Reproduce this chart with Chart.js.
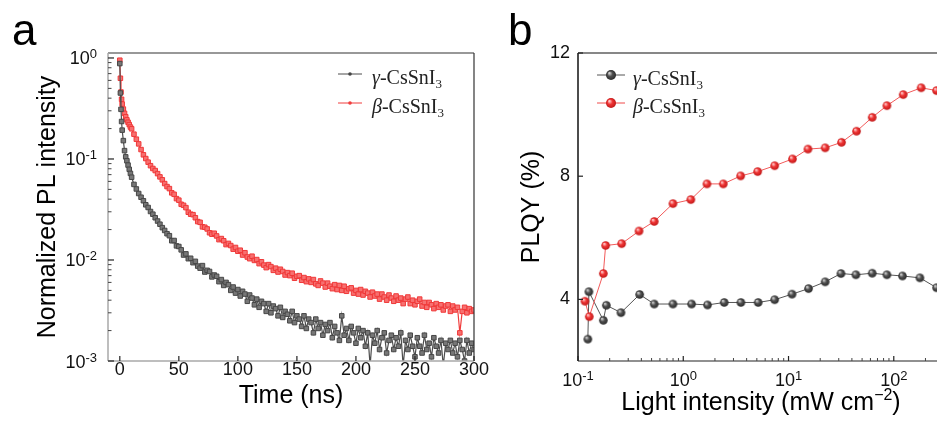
<!DOCTYPE html>
<html>
<head>
<meta charset="utf-8">
<script src="https://cdn.jsdelivr.net/npm/chart.js@4/dist/chart.umd.min.js"></script>
<style>
html, body { margin: 0; padding: 0; background: #fff; overflow: hidden; }
#wrap { position: relative; width: 937px; height: 421px; overflow: hidden; }
#chartA { position: absolute; left: 0; top: 0; }
#chartB { position: absolute; left: 470px; top: 0; }
</style>
</head>
<body>
<div id="wrap">
<canvas id="chartA" width="500" height="421"></canvas>
<canvas id="chartB" width="480" height="421"></canvas>
</div>
<script>
// ---- panel a : PL decay ----
const timeNs = [0, 0.5, 1, 1.5, 2, 3, 4, 5, 6, 7, 8, 9, 10,
  12, 14, 16, 18, 20, 22, 24, 26, 28, 30, 32, 34, 36, 38, 40,
  42, 44, 46, 48, 50, 52, 54, 56, 58, 60, 62, 64, 66, 68, 70, 72, 74, 76, 78, 80,
  82, 84, 86, 88, 90, 92, 94, 96, 98, 100, 102, 104, 106, 108, 110, 112, 114, 116, 118, 120,
  122, 124, 126, 128, 130, 132, 134, 136, 138, 140, 142, 144, 146, 148, 150, 152, 154, 156, 158, 160,
  162, 164, 166, 168, 170, 172, 174, 176, 178, 180, 182, 184, 186, 188, 190, 192, 194, 196, 198, 200,
  202, 204, 206, 208, 210, 212, 214, 216, 218, 220, 222, 224, 226, 228, 230, 232, 234, 236, 238, 240,
  242, 244, 246, 248, 250, 252, 254, 256, 258, 260, 262, 264, 266, 268, 270, 272, 274, 276, 278, 280,
  282, 284, 286, 288, 290, 292, 294, 296, 298, 300];

const betaDecay = [0.95, 0.63, 0.46, 0.39, 0.35, 0.312, 0.283, 0.262, 0.244, 0.231, 0.219, 0.207, 0.199,
  0.176, 0.157, 0.141, 0.124, 0.110, 0.101, 0.0930, 0.0858, 0.0805, 0.0768, 0.0716, 0.0665, 0.0622, 0.0571, 0.0533,
  0.0509, 0.0462, 0.0447, 0.0405, 0.0391, 0.0356, 0.0348, 0.0330, 0.0297, 0.0284,
  0.0281, 0.0262, 0.0240, 0.0236, 0.0213, 0.0211, 0.0203, 0.0186, 0.0180, 0.0184,
  0.0173, 0.0159, 0.0163, 0.0155, 0.0142, 0.0146, 0.0139, 0.0128, 0.0133, 0.0122,
  0.0125, 0.0112, 0.0118, 0.0107, 0.0103, 0.0109, 0.0099, 0.0101, 0.0092, 0.0096,
  0.0089, 0.0084, 0.0090, 0.0086, 0.0079, 0.0083, 0.0076, 0.0081, 0.0077, 0.0071,
  0.0075, 0.0070, 0.0074, 0.0066, 0.0069, 0.0070, 0.0063, 0.0067, 0.0061, 0.0065,
  0.0060, 0.0064, 0.0058, 0.0056, 0.0062, 0.0059, 0.0054, 0.0059, 0.0055, 0.0052,
  0.0057, 0.0051, 0.0056, 0.0050, 0.0055, 0.0049, 0.0052, 0.0053, 0.0047, 0.0050,
  0.0046, 0.0051, 0.0045, 0.0049, 0.0047, 0.0043, 0.0048, 0.0044, 0.0046, 0.0041,
  0.0046, 0.0043, 0.0040, 0.0045, 0.0042, 0.0039, 0.0044, 0.0040, 0.0042, 0.0037,
  0.0041, 0.0043, 0.0037, 0.0040, 0.0036, 0.0039, 0.0041, 0.0035, 0.0038, 0.0034,
  0.0038, 0.0036, 0.0033, 0.0037, 0.0034, 0.0036, 0.0032, 0.0035, 0.0036, 0.0031,
  0.0035, 0.0032, 0.0034, 0.0019, 0.0031, 0.0034, 0.0030, 0.0033, 0.0031, 0.0032];

const gammaDecay = [0.88, 0.45, 0.31, 0.235, 0.193, 0.152, 0.121, 0.105, 0.096, 0.087, 0.079, 0.072, 0.066,
  0.056, 0.0505, 0.0455, 0.0418, 0.0386, 0.0352, 0.0331, 0.0302, 0.0284, 0.0262, 0.0243, 0.0226, 0.0209, 0.0196, 0.0182,
  0.0174, 0.0155, 0.0156, 0.0138, 0.0136, 0.0126, 0.0112, 0.0115, 0.0103, 0.0104,
  0.0094, 0.0097, 0.0087, 0.0083, 0.0088, 0.0076, 0.0079, 0.0077, 0.0068, 0.0071,
  0.0069, 0.0061, 0.0064, 0.0056, 0.0060, 0.0057, 0.0050, 0.0054, 0.0047, 0.0051,
  0.0044, 0.0049, 0.0046, 0.0039, 0.0045, 0.0042, 0.0036, 0.0041, 0.0034, 0.0039,
  0.0037, 0.0031, 0.0037, 0.0030, 0.0035, 0.0033, 0.0028, 0.0034, 0.0027, 0.0031,
  0.0029, 0.0025, 0.0031, 0.0024, 0.0028, 0.0026, 0.0022, 0.0028, 0.0021, 0.0026,
  0.0024, 0.0019, 0.0026, 0.0021, 0.0024, 0.0018, 0.0023, 0.0020, 0.0024, 0.0017,
  0.0022, 0.0019, 0.0016, 0.0028, 0.0018, 0.0021, 0.0016, 0.0022, 0.0019, 0.0015,
  0.0021, 0.0017, 0.0020, 0.0014, 0.0019, 0.0009, 0.0018, 0.0015, 0.0020, 0.0013,
  0.0017, 0.0019, 0.0012, 0.0016, 0.0018, 0.0013, 0.0017, 0.0014, 0.0019, 0.0009,
  0.0016, 0.0013, 0.0018, 0.0014, 0.0011, 0.0017, 0.0014, 0.0012, 0.0018, 0.0013,
  0.0015, 0.0011, 0.0017, 0.0014, 0.0012, 0.0016, 0.0009, 0.0015, 0.0013, 0.0016,
  0.0012, 0.0015, 0.0011, 0.0016, 0.0013, 0.0010, 0.0016, 0.0012, 0.0015, 0.0013];

const timeTicks = [0, 50, 100, 150, 200, 250, 300];
const decayDecades = [0.001, 0.01, 0.1, 1];

// ---- panel b : PLQY vs light intensity ----
const powerGamma = [0.124, 0.127, 0.174, 0.186, 0.256, 0.385, 0.53, 0.798, 1.2, 1.7, 2.45, 3.53, 5.15, 7.38,
  10.8, 15.5, 22.3, 31.5, 43.7, 62.4, 86, 121, 177, 255];
const plqyGamma = [2.71, 4.25, 3.32, 3.81, 3.57, 4.16, 3.85, 3.85, 3.85, 3.82, 3.9, 3.9, 3.9, 3.99,
  4.17, 4.35, 4.57, 4.84, 4.8, 4.85, 4.8, 4.76, 4.7, 4.38];
const powerBeta = [0.1165, 0.128, 0.174, 0.183, 0.26, 0.38, 0.53, 0.798, 1.18, 1.68, 2.4, 3.51, 5.09, 7.38,
  10.9, 15.3, 22.3, 31.9, 44.3, 62.4, 86, 123, 182, 255];
const plqyBeta = [3.94, 3.44, 4.84, 5.75, 5.81, 6.22, 6.53, 7.11, 7.24, 7.75, 7.75, 8.01, 8.15, 8.34,
  8.56, 8.88, 8.92, 9.1, 9.46, 9.91, 10.29, 10.65, 10.87, 10.78];

const plqyTicks = [4, 8, 12];
const powerDecades = [0.1, 1, 10, 100];

const seriesNames = ['γ-CsSnI3', 'β-CsSnI3'];

const SANS = "'Liberation Sans', Arial, sans-serif";
const SERIF = "'Liberation Serif', 'Times New Roman', serif";

function line(ctx, x0, y0, x1, y1, color, w) {
  ctx.strokeStyle = color;
  ctx.lineWidth = w;
  ctx.beginPath();
  ctx.moveTo(x0, y0);
  ctx.lineTo(x1, y1);
  ctx.stroke();
}

// "10" with a raised exponent, y is the baseline
function drawPow(ctx, x, y, exp, align) {
  ctx.textAlign = 'left';
  ctx.textBaseline = 'alphabetic';
  ctx.fillStyle = '#111';
  ctx.font = '18px ' + SANS;
  const w1 = ctx.measureText('10').width;
  ctx.font = '13px ' + SANS;
  const w2 = ctx.measureText(exp).width;
  const x0 = align === 'right' ? x - w1 - w2 : x - (w1 + w2) / 2;
  ctx.font = '18px ' + SANS;
  ctx.fillText('10', x0, y);
  ctx.font = '13px ' + SANS;
  ctx.fillText(exp, x0 + w1, y - 6);
}

function minorLog(decades, max) {
  const out = [];
  decades.forEach(d => {
    for (let m = 2; m <= 9; m++) if (m * d <= max) out.push(m * d);
  });
  return out;
}

function ball(r, light, base, dark) {
  const c = document.createElement('canvas');
  const s = Math.ceil(r * 2 + 2);
  c.width = s;
  c.height = s;
  const g = c.getContext('2d');
  const grad = g.createRadialGradient(s / 2 - r * 0.35, s / 2 - r * 0.4, r * 0.1, s / 2, s / 2, r);
  grad.addColorStop(0, light);
  grad.addColorStop(0.45, base);
  grad.addColorStop(1, dark);
  g.fillStyle = grad;
  g.beginPath();
  g.arc(s / 2, s / 2, r, 0, Math.PI * 2);
  g.fill();
  return c;
}

const ballGray = ball(4.3, '#d0d0d0', '#505050', '#2a2a2a');
const ballRed = ball(4.3, '#ffc8c8', '#ef3434', '#c01818');
const ballGrayL = ball(5, '#d0d0d0', '#505050', '#2a2a2a');
const ballRedL = ball(5, '#ffc8c8', '#ef3434', '#c01818');

function legendRow(ctx, x0, x1, y, color, drawMarker, label, textX) {
  line(ctx, x0, y, x1, y, color, 1);
  drawMarker(ctx, (x0 + x1) / 2, y);
  const greek = label[0], body = label.slice(1, -1), sub = label.slice(-1);
  const by = y + 10;
  let tx = textX;
  ctx.textAlign = 'left';
  ctx.textBaseline = 'alphabetic';
  ctx.fillStyle = '#222';
  ctx.font = 'italic 20px ' + SERIF;
  ctx.fillText(greek, tx, by);
  tx += ctx.measureText(greek).width;
  ctx.font = '20px ' + SERIF;
  ctx.fillText(body, tx, by);
  tx += ctx.measureText(body).width;
  ctx.font = '13px ' + SERIF;
  ctx.fillText(sub, tx, by + 4);
}

function dot(color) {
  return (ctx, x, y) => {
    ctx.fillStyle = color;
    ctx.beginPath();
    ctx.arc(x, y, 1.8, 0, Math.PI * 2);
    ctx.fill();
  };
}

function sprite(img) {
  return (ctx, x, y) => ctx.drawImage(img, x - img.width / 2, y - img.height / 2);
}

const decoA = {
  id: 'decoA',
  afterDraw(chart) {
    const { ctx, chartArea: a, scales: { x, y } } = chart;
    ctx.save();
    line(ctx, a.left, a.top, a.right, a.top, '#333', 1.2);
    line(ctx, a.right, a.top, a.right, a.bottom, '#333', 1.2);
    line(ctx, a.left, a.top, a.left, a.bottom, '#a8a8a8', 1.5);
    line(ctx, a.left, a.bottom, a.right, a.bottom, '#a8a8a8', 1.5);
    timeTicks.forEach(v => {
      const px = x.getPixelForValue(v);
      line(ctx, px, a.bottom, px, a.bottom - 5, '#222', 1.2);
    });
    decayDecades.forEach(d => {
      const py = y.getPixelForValue(d);
      line(ctx, a.left, py, a.left + 6, py, '#222', 1.2);
      drawPow(ctx, a.left - 11, py + 6.5, String(Math.round(Math.log10(d))), 'right');
    });
    minorLog(decayDecades, y.max).forEach(v => {
      const py = y.getPixelForValue(v);
      line(ctx, a.left, py, a.left + 3.5, py, '#444', 1);
    });
    ctx.fillStyle = '#000';
    ctx.textAlign = 'left';
    ctx.textBaseline = 'alphabetic';
    ctx.font = '44px ' + SANS;
    ctx.fillText('a', 12, 45);
    legendRow(ctx, 338, 362, 74, '#4d4d4d', dot('#444'), seriesNames[0], 372);
    legendRow(ctx, 338, 362, 103, '#f03c3c', dot('#f03c3c'), seriesNames[1], 372);
    ctx.restore();
  }
};

const decoB = {
  id: 'decoB',
  afterDraw(chart) {
    const { ctx, chartArea: a, scales: { x, y } } = chart;
    ctx.save();
    line(ctx, a.left, a.top, a.right, a.top, '#111', 1.2);
    line(ctx, a.left, a.top, a.left, a.bottom, '#111', 1.5);
    line(ctx, a.left, a.bottom, a.right, a.bottom, '#222', 1.2);
    powerDecades.forEach(d => {
      const px = x.getPixelForValue(d);
      line(ctx, px, a.bottom, px, a.bottom - 5, '#222', 1.2);
      drawPow(ctx, px, 385.5, String(Math.round(Math.log10(d))), 'center');
    });
    minorLog(powerDecades, x.max).forEach(v => {
      const px = x.getPixelForValue(v);
      line(ctx, px, a.bottom, px, a.bottom - 3, '#444', 1);
    });
    plqyTicks.forEach(v => {
      const py = y.getPixelForValue(v);
      line(ctx, a.left, py, a.left + 5, py, '#222', 1.2);
    });
    // x title with superscript
    const t1 = 'Light intensity (mW cm', t2 = '\u22122', t3 = ')';
    ctx.fillStyle = '#000';
    ctx.textAlign = 'left';
    ctx.textBaseline = 'alphabetic';
    ctx.font = '25px ' + SANS;
    const w1 = ctx.measureText(t1).width, w3 = ctx.measureText(t3).width;
    ctx.font = '16px ' + SANS;
    const w2 = ctx.measureText(t2).width;
    let tx = (a.left + a.right) / 2 - (w1 + w2 + w3) / 2;
    ctx.font = '25px ' + SANS;
    ctx.fillText(t1, tx, 410);
    ctx.font = '16px ' + SANS;
    ctx.fillText(t2, tx + w1, 400);
    ctx.font = '25px ' + SANS;
    ctx.fillText(t3, tx + w1 + w2, 410);
    ctx.font = '44px ' + SANS;
    ctx.fillText('b', 38, 45);
    legendRow(ctx, 127, 155, 75, '#555', sprite(ballGrayL), seriesNames[0], 163);
    legendRow(ctx, 127, 155, 103, '#f04a4a', sprite(ballRedL), seriesNames[1], 163);
    ctx.restore();
  }
};

const common = {
  responsive: false,
  animation: false,
  events: [],
  plugins: { legend: { display: false }, tooltip: { enabled: false } }
};

new Chart(document.getElementById('chartA'), {
  type: 'line',
  data: {
    datasets: [
      {
        label: seriesNames[0],
        data: timeNs.map((t, i) => ({ x: t, y: gammaDecay[i] })),
        borderColor: '#4d4d4d',
        borderWidth: 1.2,
        pointStyle: 'rect',
        pointRadius: 3.2,
        pointBorderWidth: 1,
        pointBorderColor: '#474747',
        pointBackgroundColor: '#777'
      },
      {
        label: seriesNames[1],
        data: timeNs.map((t, i) => ({ x: t, y: betaDecay[i] })),
        borderColor: '#f03c3c',
        borderWidth: 1.2,
        pointStyle: 'rect',
        pointRadius: 3.2,
        pointBorderWidth: 1,
        pointBorderColor: '#f03838',
        pointBackgroundColor: '#f77070'
      }
    ]
  },
  options: {
    ...common,
    layout: { padding: { top: 53, right: 26, left: 0, bottom: 0 } },
    scales: {
      x: {
        type: 'linear',
        min: -10,
        max: 300,
        afterBuildTicks: s => { s.ticks = timeTicks.map(v => ({ value: v })); },
        afterFit: s => { s.height = 60; },
        grid: { display: false, drawTicks: false },
        border: { display: false },
        ticks: { font: { family: SANS, size: 18, lineHeight: 1 }, color: '#111', padding: 0, maxRotation: 0, autoSkip: false },
        title: { display: true, text: 'Time (ns)', font: { family: SANS, size: 25 }, color: '#000', padding: { bottom: 9.5 } }
      },
      y: {
        type: 'logarithmic',
        min: 0.001,
        max: 1.12,
        afterFit: s => { s.width = 108; },
        grid: { display: false, drawTicks: false },
        border: { display: false },
        ticks: { display: false },
        title: { display: true, text: 'Normalized PL intensity', font: { family: SANS, size: 25 }, color: '#000', padding: { top: 33.5 } }
      }
    }
  },
  plugins: [decoA]
});

new Chart(document.getElementById('chartB'), {
  type: 'line',
  data: {
    datasets: [
      {
        label: seriesNames[0],
        data: powerGamma.map((p, i) => ({ x: p, y: plqyGamma[i] })),
        borderColor: '#555',
        borderWidth: 1,
        pointStyle: ballGray,
        pointRadius: 4.5,
        order: 1
      },
      {
        label: seriesNames[1],
        data: powerBeta.map((p, i) => ({ x: p, y: plqyBeta[i] })),
        borderColor: '#f25a5a',
        borderWidth: 1,
        pointStyle: ballRed,
        pointRadius: 4.5,
        order: 0
      }
    ]
  },
  options: {
    ...common,
    layout: { padding: { top: 53, right: 6, left: 0, bottom: 0 } },
    scales: {
      x: {
        type: 'logarithmic',
        min: 0.1,
        max: 300,
        afterFit: s => { s.height = 60; },
        grid: { display: false, drawTicks: false },
        border: { display: false },
        ticks: { display: false }
      },
      y: {
        type: 'linear',
        min: 2,
        max: 12,
        afterBuildTicks: s => { s.ticks = plqyTicks.map(v => ({ value: v })); },
        afterFit: s => { s.width = 108; },
        grid: { display: false, drawTicks: false },
        border: { display: false },
        ticks: { font: { family: SANS, size: 18 }, color: '#111', padding: 8 },
        title: { display: true, text: 'PLQY (%)', font: { family: SANS, size: 25 }, color: '#000', padding: { top: 47.5 } }
      }
    }
  },
  plugins: [decoB]
});
</script>
</body>
</html>
